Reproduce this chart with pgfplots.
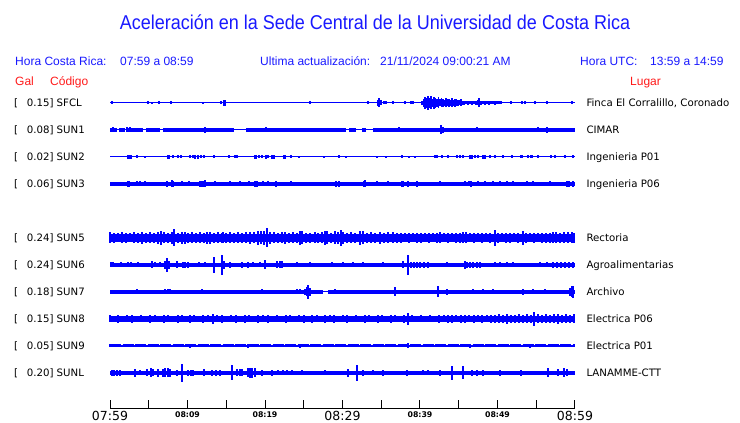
\documentclass[border=0pt]{standalone}
\usepackage{pgfplots}
\usepackage{pgfplotstable}
\pgfplotsset{compat=1.18}
\usepackage{fontspec}
\setmainfont{Liberation Sans}
\newfontfamily\dv{DejaVu Sans}
\definecolor{tblue}{RGB}{0,0,255}
\definecolor{hblue}{RGB}{25,25,255}
\definecolor{hred}{RGB}{255,25,25}

% spikes: x (px), e = half amplitude (px)
\pgfplotstableread{
x e
112 1.5
148 1.5
152 1
159 1.5
171 1.5
203 1
221 1.5
224 3
225 3
310 1.5
368 1.5
378 3
379 4.5
381 2.5
384 1.5
386 1.5
393 1.5
405 1.5
411 1.5
413 1.5
422 2
423.5 4
425 6
426.5 5
428 7
429.5 5
431 6.5
432.5 4
434 6
435.5 5
437 4
438.5 5.5
440 3.5
441.5 4.5
443 4
444.5 3
446 4.5
447.5 3.5
449 4
450.5 3
452 4.5
453.5 3
455 4
456.5 3.5
458 3
459.5 2.5
461 3.5
462.5 2
464 2
466 1.5
468 2
470 1.5
472 2
474 1.5
476 2
478 2.5
479 4.5
481 2
483 1.5
485 2
487 1.5
489 2
491 1.5
493 1.5
495 2
497 1.5
499 1.5
501 1.5
511 1.5
522 1.5
525 1.5
535 1.5
547 1.5
572 1.5
}\sfcl

\pgfplotstableread{
x e
113 2.5
127 2.5
130 2.5
205 3
266 2.5
399 2.5
441 4.5
443 3
477 2.5
538 2.5
547 3
}\sunone

\pgfplotstableread{
x e
128 2
129.5 2
131 2
137 1.5
145 1
168 2
169.5 2
173 1.5
178 1.5
181 1.5
190 1.5
193 1.5
195 2
198 2
201 1.5
204 1.5
214 1.5
229 1.5
235 1.5
237 1.5
255 2
256.5 2
259 1.5
262 1.5
266 2
268 1.5
272 2
274 2
284 2
285.5 2
291 1.5
299 1
324 1
339 1.5
346 1
377 1
386 1
402 1.5
409 1
415 1
435 1.5
437 1.5
442 1.5
448 1.5
457 1.5
460 1.5
463 1.5
470 2
472 2
475 1.5
478 1.5
483 2
485 2
490 1.5
495 1.5
503 1.5
512 1.5
521 1.5
522.5 1.5
528 1.5
531 1.5
532.5 1.5
538 1.5
551 1.5
555 1.5
565 1.5
573 1.5
}\suntwo

\pgfplotstableread{
x e
128 3
129 3
137 2.5
140 2.5
145 2.5
167 3
172 3.5
173 3
182 2.5
189 2.5
200 3
201 3
202 3
203 3
205 3.5
215 2.5
230 2.5
240 2.5
249 2.5
255 3
257 3
263 2.5
268 2.5
276 3
291 2.5
336 3
339 3
364 3
365 3.5
377 2.5
388 2.5
402 3
403 3
408 3
417 3
440 2.5
465 2.5
469 2.5
471 3
478 2.5
485 2.5
493 2.5
500 2.5
507 2.5
513 2.5
527 2.5
533 2.5
550 2.5
567 3
569 3
573 3
}\sunthree

\pgfplotstableread{
x e
110 5.5
114 5
118 4.5
122 5.5
126 5
130 4.5
134 5.5
138 5
142 6
146 5
150 5.5
154 5
158 6
161 6.7
164 5.5
168 5
172 6
174 8.5
178 5
182 6
185 6
188 5
192 5.5
196 5
200 5.5
204 5
207 6
210 6
214 5
218 5.5
222 5
223 5.5
226 5
230 5.5
234 5
238 5.5
242 5
246 5.5
250 6
254 5.5
258 7
261 6.5
264 7
267 9.5
270 6
274 5.5
278 5
282 5.5
285 6
289 5
293 5.5
297 5
300 7
302 6.5
306 5
310 5
315 5.5
318 5
322 5.5
325 7
327 6.5
331 5
335 6.5
338 6
341 8
343 6
347 5
351 5.5
355 5
360 7
363 6.5
367 5
371 5.5
375 5
380 6
384 5
388 5.5
393 5.5
397 5
401 5
405 4.5
409 5
413 4.5
417 5
421 5
425 4.5
429 5
433 4.5
437 5
440 5.5
444 4.5
448 5
452 4.5
456 5
460 5
463 5.5
466 5.5
470 4.5
474 5
478 4.5
482 5
486 4.5
490 5
495 8
498 5
502 4.5
506 5
510 5
514 4.5
518 5
523 7
526 5
530 4.5
534 5
538 4.5
542 5
546 5
550 5
553 5.5
556 5.5
560 5
564 5.5
568 5.5
572 5.5
574 5
}\sunfive

\pgfplotstableread{
x e
111 2.5
113 2.5
121 2.5
128 2.5
131 2.5
138 2.5
152 3.5
155 2.5
160 2.5
165 4
167 7
169 4
177 3.5
183 3
185 3
188 3
199 2.5
205 2.5
214 8
222 10
224 4
230 3
242 3
248 3
253 2.5
260 2.5
265 4.5
277 3.5
280 3.5
282 3.5
297 2.5
310 2.5
332 2.5
343 2.5
353 2.5
363 2.5
383 2.5
403 3.5
408 10
411 3
414 3
417 3
420 3
424 3
428 3
447 2.5
465 4
467 3
470 3
473 3
477 3
480 3
495 2.5
500 2.5
507 2.5
513 2.5
540 2.5
547 2.5
553 3
557 3
561 3
565 3
569 3
573 3
}\sunsix

\pgfplotstableread{
x e
137 2.5
155 2
160 2
165 2.5
168 2.5
170 2.5
185 2
202 2.5
220 2
262 2.5
297 2.5
300 2.5
305 3
307 4.5
308 7
310 4
335 2.5
380 2
395 4.5
425 2
438 5.5
447 3
473 2.5
483 2.5
493 2.5
523 3
533 2.5
545 2.5
570 4
572 5.5
573 6
}\sunseven

\pgfplotstableread{
x e
110 3.5
114 3.2
118 3.8
122 3.3
127 3.5
132 3.8
136 3.3
141 3.5
146 3.3
150 3.8
155 3.5
160 3.3
164 3.8
168 3.5
173 3.3
178 3.8
182 3.5
186 3.3
190 3.8
194 3.5
199 3.3
203 4
208 3.5
213 4.7
217 3.5
222 3.8
227 3.3
231 3.5
236 3.8
240 3.3
245 3.8
249 3.5
254 3.3
258 4
263 3.5
268 3.8
272 3.3
277 3.5
281 3.3
286 3.8
290 3.5
295 3.3
299 3.5
304 3.8
308 3.3
312 3.8
317 3.5
321 3.3
325 4
330 3.5
334 3.8
338 3.3
343 3.5
347 3.8
351 3.3
356 3.5
360 3.3
365 3.8
369 3.5
373 3.3
378 3.8
382 3.5
386 3.3
391 3.8
395 3.5
400 3.3
404 3.8
408 6
412 3.5
417 3.3
421 3.5
426 3.3
430 3.5
435 3.3
439 3.8
444 3.5
448 3.8
452 4
456 3.5
461 3.8
465 4
469 3.5
474 3.8
478 3.5
482 3.8
487 3.5
491 3.8
495 4.2
499 4.5
503 4
507 5
511 4.2
515 4
519 4.5
523 4
527 4.5
531 4.2
534 6.7
538 4.5
542 4.2
546 4.5
550 4
554 4.5
558 4.7
562 4.2
566 4.5
570 4.2
574 4.5
}\suneight

\pgfplotstableread{
x e
110 1.5
190 1.8
248 2
300 1.8
408 2.5
470 1.8
530 1.8
}\sunnine

\pgfplotstableread{
x e
112 3
114 3
117 3
120 3
135 4
140 2.5
147 3.5
151 4.5
153 3.5
158 4
163 4
165 4.5
168 4.5
170 4
177 3
182 8.7
188 3
191 3
193 3
204 3.5
212 3
216 3
220 3
232 7.5
237 3.5
240 3.5
242 3.5
248 4.5
250 5
252 5
255 4.5
262 3
272 3
278 2.5
283 2.5
287 2.5
292 2.5
302 2.5
325 2.5
348 4
357 8
363 3
373 2.5
383 3
407 3
423 2.5
428 2.5
440 3
452 7
463 6.5
472 3
477 3
483 3
500 3
521 3
548 4.5
558 3.5
564 4.5
567 3.5
}\sunl

\pgfplotsset{
  spk/.style={draw=none, mark=none, forget plot,
    error bars/y dir=both, error bars/y explicit,
    error bars/error mark=none,
    error bars/error bar style={draw=tblue, line width=1.2pt, solid}},
  base/.style={tblue, mark=none, forget plot, unbounded coords=jump}
}

\begin{document}
\begin{tikzpicture}
\begin{axis}[at={(0pt,0pt)}, anchor=south west, scale only axis,
  width=740pt, height=423pt, xmin=0, xmax=740, ymin=-423, ymax=0,
  hide axis, clip=false]
\path (axis cs:0,0) rectangle (axis cs:740,-423);

% title and header
\node[anchor=base, inner sep=0pt, text=hblue, font=\fontsize{20}{20}\selectfont] at (axis cs:375,-30) {\scalebox{0.9}[1]{Aceleración en la Sede Central de la Universidad de Costa Rica}};
\begin{scope}[every node/.style={anchor=base west, inner sep=0pt, font=\fontsize{12}{12}\selectfont}]
\node[text=hblue] at (axis cs:15,-66) {Hora Costa Rica:};
\node[text=hblue] at (axis cs:120,-66) {07:59 a 08:59};
\node[text=hblue] at (axis cs:260,-66) {Ultima actualización:};
\node[text=hblue] at (axis cs:380,-66) {21/11/2024 09:00:21 AM};
\node[text=hblue] at (axis cs:580,-66) {Hora UTC:};
\node[text=hblue] at (axis cs:650,-66) {13:59 a 14:59};
\node[text=hred] at (axis cs:15,-85.5) {Gal};
\node[text=hred] at (axis cs:50,-85.5) {Código};
\node[text=hred] at (axis cs:630,-85.5) {Lugar};
\end{scope}

% station labels
\begin{scope}[every node/.style={anchor=base west, inner sep=0pt, font=\dv\fontsize{10.2}{10.2}\selectfont}]
\node at (axis cs:14,-107) {[};
\node at (axis cs:26.6,-107) {0.15] SFCL};
\node at (axis cs:586.3,-107) {Finca El Corralillo, Coronado};
\node at (axis cs:14,-134) {[};
\node at (axis cs:26.6,-134) {0.08] SUN1};
\node at (axis cs:586.3,-134) {CIMAR};
\node at (axis cs:14,-161) {[};
\node at (axis cs:26.6,-161) {0.02] SUN2};
\node at (axis cs:586.3,-161) {Ingenieria P01};
\node at (axis cs:14,-188) {[};
\node at (axis cs:26.6,-188) {0.06] SUN3};
\node at (axis cs:586.3,-188) {Ingenieria P06};
\node at (axis cs:14,-242) {[};
\node at (axis cs:26.6,-242) {0.24] SUN5};
\node at (axis cs:586.3,-242) {Rectoria};
\node at (axis cs:14,-269) {[};
\node at (axis cs:26.6,-269) {0.24] SUN6};
\node at (axis cs:586.3,-269) {Agroalimentarias};
\node at (axis cs:14,-296) {[};
\node at (axis cs:26.6,-296) {0.18] SUN7};
\node at (axis cs:586.3,-296) {Archivo};
\node at (axis cs:14,-323) {[};
\node at (axis cs:26.6,-323) {0.15] SUN8};
\node at (axis cs:586.3,-323) {Electrica P06};
\node at (axis cs:14,-350) {[};
\node at (axis cs:26.6,-350) {0.05] SUN9};
\node at (axis cs:586.3,-350) {Electrica P01};
\node at (axis cs:14,-377) {[};
\node at (axis cs:26.6,-377) {0.20] SUNL};
\node at (axis cs:586.3,-377) {LANAMME-CTT};
\end{scope}

% base bands
\addplot[base, line width=1pt] coordinates {(110,-103)(575,-103)};
\addplot[base, line width=1pt] coordinates {(110,-130)(575,-130)};
\addplot[base, line width=3.3pt] coordinates {(110,-130)(117,-130)(nan,nan)(119,-130)(125,-130)(nan,nan)(127,-130)(143,-130)(nan,nan)(146,-130)(160,-130)(nan,nan)(163,-130)(234,-130)(nan,nan)(246,-130)(346,-130)(nan,nan)(349,-130)(356,-130)(nan,nan)(362,-130)(366,-130)(nan,nan)(373,-130)(575,-130)};
\addplot[base, line width=1pt] coordinates {(110,-157)(575,-157)};
\addplot[base, line width=3.7pt] coordinates {(110,-184)(575,-184)};
\addplot[base, line width=7.5pt] coordinates {(110,-238)(575,-238)};
\addplot[base, line width=3.5pt] coordinates {(110,-265)(575,-265)};
\addplot[base, line width=1pt] coordinates {(110,-292)(575,-292)};
\addplot[base, line width=3.5pt] coordinates {(110,-292)(323,-292)(nan,nan)(328,-292)(575,-292)};
\addplot[base, line width=5.3pt] coordinates {(110,-319)(575,-319)};
\addplot[base, line width=1.2pt] coordinates {(110,-346)(575,-346)};
\addplot[base, line width=3pt, dash pattern=on 11pt off 1.5pt] coordinates {(110,-346)(575,-346)};
\addplot[base, line width=3.3pt] coordinates {(110,-373)(575,-373)};

% spikes
\addplot[spk] table[x=x, y expr=-103, y error=e] {\sfcl};
\addplot[spk] table[x=x, y expr=-130, y error=e] {\sunone};
\addplot[spk] table[x=x, y expr=-157, y error=e] {\suntwo};
\addplot[spk] table[x=x, y expr=-184, y error=e] {\sunthree};
\addplot[spk] table[x=x, y expr=-238, y error=e] {\sunfive};
\addplot[spk] table[x=x, y expr=-265, y error=e] {\sunsix};
\addplot[spk] table[x=x, y expr=-292, y error=e] {\sunseven};
\addplot[spk] table[x=x, y expr=-319, y error=e] {\suneight};
\addplot[spk] table[x=x, y expr=-346, y error=e] {\sunnine};
\addplot[spk] table[x=x, y expr=-373, y error=e] {\sunl};
\end{axis}

% time axis
\begin{axis}[at={(110pt,14pt)}, anchor=south west, scale only axis,
  width=465pt, height=10pt, xmin=0, xmax=60, ymin=0, ymax=1,
  axis x line=bottom, axis y line=none, ytick=\empty,
  x axis line style={-, line width=1pt, black},
  xtick={0,5,...,60}, tick align=inside, major tick length=9pt,
  xtick style={line width=1pt, black},
  xticklabel style={anchor=base, yshift=-12pt, inner sep=0pt, font=\dv},
  xticklabels={{\fontsize{12.5}{12.5}\selectfont 07:59},{},{\raisebox{3pt}{\fontsize{7.8}{7.8}\selectfont\bfseries 08:09}},{},{\raisebox{3pt}{\fontsize{7.8}{7.8}\selectfont\bfseries 08:19}},{},{\fontsize{12.5}{12.5}\selectfont 08:29},{},{\raisebox{3pt}{\fontsize{7.8}{7.8}\selectfont\bfseries 08:39}},{},{\raisebox{3pt}{\fontsize{7.8}{7.8}\selectfont\bfseries 08:49}},{},{\fontsize{12.5}{12.5}\selectfont 08:59}}]
\addplot[draw=none, forget plot] coordinates {(0,0)(60,0)};
\end{axis}
\end{tikzpicture}
\end{document}
